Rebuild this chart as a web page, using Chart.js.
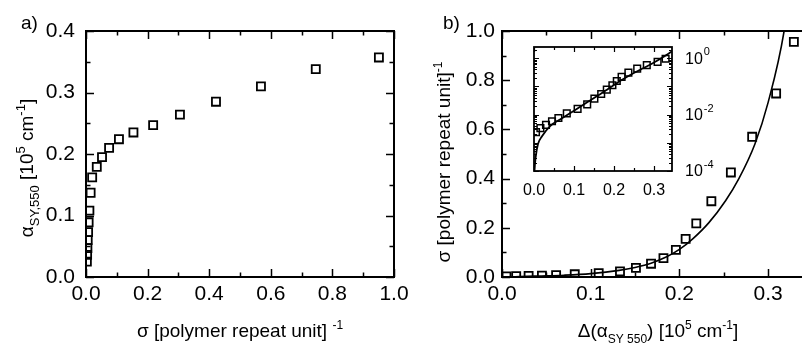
<!DOCTYPE html>
<html>
<head>
<meta charset="utf-8">
<script src="https://cdn.jsdelivr.net/npm/chart.js@4.4.1/dist/chart.umd.min.js"></script>
<style>
  html, body { margin: 0; padding: 0; background: #fff; overflow: hidden; }
  #wrap { position: relative; width: 802px; height: 346px; overflow: hidden; }
  canvas { position: absolute; top: 0; }
</style>
</head>
<body>
<div id="wrap">
  <canvas id="chartA" width="420" height="346" style="left:0"></canvas>
  <canvas id="chartB" width="420" height="346" style="left:400px"></canvas>
  <canvas id="chartInset" width="300" height="220" style="left:470px"></canvas>
</div>
<script>
const FONT = '"Liberation Sans", Arial, Helvetica, sans-serif';

// panel a: alpha(SY,550) against doping level sigma
const sigmaA = [0.951, 0.746, 0.568, 0.422, 0.305, 0.218, 0.154, 0.107, 0.075, 0.052,
                0.035, 0.020, 0.015, 0.011, 0.0085, 0.0068, 0.0055, 0.0045, 0.0036, 0.0028];
const alphaA = [0.357, 0.338, 0.310, 0.285, 0.264, 0.247, 0.235, 0.224, 0.210, 0.195,
                0.179, 0.162, 0.137, 0.108, 0.089, 0.073, 0.060, 0.047, 0.036, 0.025];

// panel b (and inset): sigma against delta alpha
const deltaB = [0.005, 0.016, 0.030, 0.045, 0.061, 0.082, 0.109, 0.133, 0.151, 0.168,
                0.182, 0.196, 0.207, 0.219, 0.236, 0.258, 0.282, 0.309, 0.329];
const sigmaB = [0.0024, 0.0033, 0.0043, 0.0058, 0.0076, 0.011, 0.016, 0.023, 0.037, 0.054,
                0.077, 0.110, 0.155, 0.218, 0.308, 0.425, 0.570, 0.746, 0.956];

const fitX = [0.001, 0.004, 0.010, 0.020, 0.041, 0.070, 0.100, 0.132, 0.150, 0.168,
              0.185, 0.200, 0.215, 0.233, 0.252, 0.267, 0.285, 0.300, 0.318, 0.345];
const fitY = [0.0001, 0.0003, 0.0009, 0.0017, 0.0040, 0.0074, 0.0138, 0.027, 0.039, 0.056,
              0.081, 0.112, 0.155, 0.220, 0.310, 0.400, 0.540, 0.710, 1.0, 1.75];

// tick labels
const aXTicks = [0, 0.2, 0.4, 0.6, 0.8, 1.0];
const aYTicks = [0, 0.1, 0.2, 0.3, 0.4];
const bXTicks = [0, 0.1, 0.2, 0.3];
const bYTicks = [0, 0.2, 0.4, 0.6, 0.8, 1.0];
const insetXTicks = [0, 0.1, 0.2, 0.3];
const insetYTicks = [1e-4, 1e-2, 1];
const insetYExp = ["-4", "-2", "0"];

// minor tick marks
const aXMinor = [0.1, 0.3, 0.5, 0.7, 0.9];
const aYMinor = [0.05, 0.15, 0.25, 0.35];
const bXMinor = [0.05, 0.15, 0.25, 0.35];
const bYMinor = [0.1, 0.3, 0.5, 0.7, 0.9];
const insetXMinor = [0.05, 0.15, 0.25];
const insetYMajor = [1e-4, 1e-3, 1e-2, 1e-1, 1];
const insetYMinor = [];
insetYMajor.forEach(d => { for (let m = 2; m <= 9; m++) insetYMinor.push(d * m); });

const pts = (xs, ys) => xs.map((x, i) => ({ x: x, y: ys[i] }));

function setTicks(values) {
  return scale => { scale.ticks = values.map(v => ({ value: v })); };
}

// draw text made of normal / sub / sup pieces, centred on (x, y)
function richText(ctx, parts, x, y, big, small, rotate) {
  ctx.save();
  ctx.translate(x, y);
  if (rotate) ctx.rotate(-Math.PI / 2);
  ctx.fillStyle = "#000";
  ctx.textBaseline = "alphabetic";
  let w = 0;
  parts.forEach(([t, k]) => {
    ctx.font = (k ? small : big) + "px " + FONT;
    w += ctx.measureText(t).width;
  });
  let cx = -w / 2;
  parts.forEach(([t, k]) => {
    ctx.font = (k ? small : big) + "px " + FONT;
    const dy = k === 1 ? big * 0.3 : k === 2 ? -big * 0.42 : 0;
    ctx.fillText(t, cx, dy);
    cx += ctx.measureText(t).width;
  });
  ctx.restore();
}

// frame with inward ticks on all sides
function framePlugin(o) {
  return {
    id: "frame",
    afterDatasetsDraw(chart) {
      const { ctx, chartArea: a, scales: { x, y } } = chart;
      ctx.save();
      ctx.strokeStyle = "#000";
      ctx.lineWidth = o.tickWidth;
      ctx.beginPath();
      const xt = (v, len) => {
        const p = Math.round(x.getPixelForValue(v)) + 0.5;
        if (p < a.left - 1 || p > a.right + 1) return;
        ctx.moveTo(p, a.bottom); ctx.lineTo(p, a.bottom - len);
        ctx.moveTo(p, a.top); ctx.lineTo(p, a.top + len);
      };
      const yt = (v, len) => {
        const p = Math.round(y.getPixelForValue(v)) + 0.5;
        if (p < a.top - 1 || p > a.bottom + 1) return;
        ctx.moveTo(a.left, p); ctx.lineTo(a.left + len, p);
        ctx.moveTo(a.right, p); ctx.lineTo(a.right - len, p);
      };
      o.xMajor.forEach(v => xt(v, o.major));
      o.xMinor.forEach(v => xt(v, o.minor));
      o.yMajor.forEach(v => yt(v, o.major));
      o.yMinor.forEach(v => yt(v, o.minor));
      ctx.stroke();
      ctx.lineWidth = o.frameWidth;
      ctx.strokeRect(a.left, a.top, a.right - a.left, a.bottom - a.top);
      ctx.restore();
      if (o.extra) o.extra(chart);
    }
  };
}

function squares(data, r, bw) {
  return {
    data: data,
    pointStyle: "rect",
    pointRadius: r,
    pointHoverRadius: r,
    pointBorderWidth: bw,
    borderColor: "#000",
    backgroundColor: "rgba(0,0,0,0)",
    showLine: false
  };
}

function fitLine(width) {
  return {
    data: pts(fitX, fitY),
    showLine: true,
    pointRadius: 0,
    borderColor: "#000",
    borderWidth: width,
    cubicInterpolationMode: "monotone",
    fill: false
  };
}

function linearAxis(min, max, ticks, size, pad, fit, horizontal) {
  return {
    type: "linear",
    min: min,
    max: max,
    grid: { display: false, drawTicks: false },
    border: { display: false },
    afterBuildTicks: setTicks(ticks),
    afterFit: s => { if (horizontal) s.height = fit; else s.width = fit; },
    ticks: {
      color: "#000",
      padding: pad,
      maxRotation: 0,
      autoSkip: false,
      font: { family: FONT, size: size },
      callback: v => v.toFixed(1)
    }
  };
}

const common = {
  responsive: false,
  animation: false,
  events: [],
  plugins: { legend: { display: false }, tooltip: { enabled: false } }
};

// ---------- panel a ----------
new Chart(document.getElementById("chartA"), {
  type: "scatter",
  data: { datasets: [squares(pts(sigmaA, alphaA), 5.7, 1.8)] },
  options: {
    ...common,
    layout: { padding: { left: 0, top: 31, right: 26, bottom: 0 } },
    scales: {
      x: linearAxis(0, 1.0, aXTicks, 21, 5, 69, true),
      y: linearAxis(0, 0.4, aYTicks, 21, 11, 86, false)
    }
  },
  plugins: [framePlugin({
    xMajor: aXTicks, xMinor: aXMinor, yMajor: aYTicks, yMinor: aYMinor,
    major: 8, minor: 4.5, tickWidth: 1.5, frameWidth: 2,
    extra(chart) {
      const ctx = chart.ctx;
      ctx.save();
      ctx.fillStyle = "#000";
      ctx.font = "19px " + FONT;
      ctx.fillText("a)", 21, 29);
      ctx.restore();
      richText(ctx, [["\u03c3 [polymer repeat unit] ", 0], ["-1", 2]], 240, 337, 19, 12, false);
      richText(ctx, [["\u03b1", 0], ["SY,550", 1], [" [10", 0], ["5", 2], [" cm", 0], ["-1", 2], ["]", 0]],
        33, 168, 19, 13, true);
    }
  })]
});

// ---------- panel b ----------
new Chart(document.getElementById("chartB"), {
  type: "scatter",
  data: { datasets: [fitLine(1.6), squares(pts(deltaB, sigmaB), 5.7, 1.8)] },
  options: {
    ...common,
    layout: { padding: { left: 0, top: 31, right: 7, bottom: 0 } },
    scales: {
      x: linearAxis(0, 0.35, bXTicks, 21, 5, 69, true),
      y: linearAxis(0, 1.0, bYTicks, 21, 7, 102, false)
    }
  },
  plugins: [framePlugin({
    xMajor: bXTicks, xMinor: bXMinor, yMajor: bYTicks, yMinor: bYMinor,
    major: 8, minor: 4.5, tickWidth: 1.5, frameWidth: 2,
    extra(chart) {
      const ctx = chart.ctx;
      ctx.save();
      ctx.fillStyle = "#000";
      ctx.font = "19px " + FONT;
      ctx.fillText("b)", 43, 29);
      ctx.restore();
      richText(ctx, [["\u0394(\u03b1", 0], ["SY 550", 1], [") [10", 0], ["5", 2], [" cm", 0], ["-1", 2], ["]", 0]],
        258, 337, 19, 12, false);
      richText(ctx, [["\u03c3 [polymer repeat unit]", 0], ["-1", 2]], 50, 162, 19, 12, true);
    }
  })]
});

// ---------- inset (log scale) ----------
new Chart(document.getElementById("chartInset"), {
  type: "scatter",
  data: { datasets: [fitLine(1.8), squares(pts(deltaB, sigmaB), 4.7, 1.5)] },
  options: {
    ...common,
    layout: { padding: { left: 64, top: 47, right: 38, bottom: 0 } },
    scales: {
      x: linearAxis(0, 0.345, insetXTicks, 16, 10, 49, true),
      y: {
        type: "logarithmic",
        position: "right",
        min: 1e-4,
        max: 2.5,
        grid: { display: false, drawTicks: false },
        border: { display: false },
        ticks: { display: false },
        afterFit: s => { s.width = 60; }
      }
    }
  },
  plugins: [{
    id: "whiteBox",
    beforeDatasetsDraw(chart) {
      const { ctx, chartArea: a } = chart;
      ctx.save();
      ctx.fillStyle = "#fff";
      ctx.fillRect(a.left, a.top, a.right - a.left, a.bottom - a.top);
      ctx.restore();
    }
  }, framePlugin({
    xMajor: insetXTicks, xMinor: insetXMinor, yMajor: insetYMajor, yMinor: insetYMinor,
    major: 5, minor: 3, tickWidth: 1.2, frameWidth: 1.8,
    extra(chart) {
      const { ctx, chartArea: a, scales: { y } } = chart;
      insetYTicks.forEach((v, i) => {
        const py = y.getPixelForValue(v);
        ctx.save();
        ctx.fillStyle = "#000";
        ctx.textBaseline = "middle";
        ctx.font = "16px " + FONT;
        ctx.fillText("10", a.right + 13, py + 1);
        const w = ctx.measureText("10").width;
        ctx.font = "11px " + FONT;
        ctx.fillText(insetYExp[i], a.right + 13 + w + 1, py - 6);
        ctx.restore();
      });
    }
  })]
});
</script>
</body>
</html>
